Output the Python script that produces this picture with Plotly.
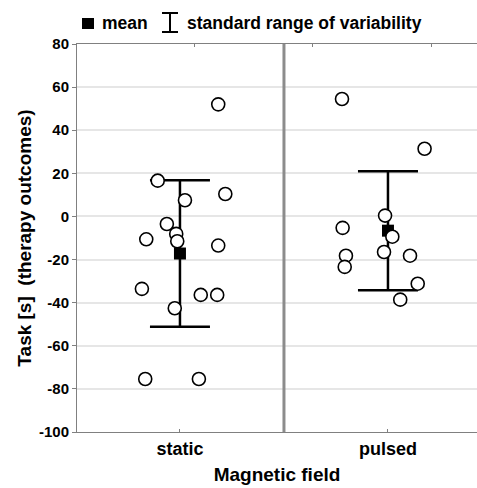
import plotly.graph_objects as go

# ---- data ----
categories = ["static", "pulsed"]
cat_pos = [0, 1]

static_values = [52, 16.6, 7.5, 10.4, -3.5, -10.6, -8.1, -11.5, -13.5,
                 -33.6, -36.4, -36.4, -42.6, -75.4, -75.4]
static_jitter = [0.184, -0.107, 0.024, 0.218, -0.063, -0.162, -0.018, -0.013, 0.184,
                 -0.183, 0.100, 0.179, -0.025, -0.167, 0.091]

pulsed_values = [54.5, 31.4, 0.4, -5.3, -9.4, -16.5, -18.2, -18.2, -23.4, -31.2, -38.6]
pulsed_jitter = [-0.221, 0.176, -0.014, -0.218, 0.021, -0.019, -0.202, 0.106, -0.208,
                 0.143, 0.059]

means = [-17.2, -6.6]
sds = [34.0, 27.6]

y_ticks = list(range(-100, 81, 20))
y_tick_labels = [str(v) for v in y_ticks]

FONT = "Liberation Sans, Arial, sans-serif"

fig = go.Figure()

# mean with standard-deviation whiskers
fig.add_trace(go.Scatter(
    x=cat_pos, y=means, mode="markers",
    marker=dict(symbol="square", size=12, color="black"),
    error_y=dict(type="data", array=sds, visible=True, color="black",
                 thickness=2.5, width=30),
    showlegend=False, hoverinfo="skip"))

# individual observations
for pos, vals, jit in [(cat_pos[0], static_values, static_jitter),
                       (cat_pos[1], pulsed_values, pulsed_jitter)]:
    fig.add_trace(go.Scatter(
        x=[pos + j for j in jit], y=vals, mode="markers",
        marker=dict(symbol="circle", size=13, color="white",
                    line=dict(color="black", width=1.6)),
        showlegend=False))

# invisible trace to carry the top axis ticks
fig.add_trace(go.Scatter(x=[0, 1], y=[0, 0], xaxis="x2", mode="markers",
                         marker=dict(opacity=0), showlegend=False,
                         hoverinfo="skip"))

x_range = [-0.495, 1.428]

fig.update_layout(
    width=477, height=488,
    margin=dict(l=77, r=0, t=44, b=56, autoexpand=False),
    paper_bgcolor="white", plot_bgcolor="white",
    font=dict(family=FONT, color="black"),
    xaxis=dict(range=x_range, tickvals=cat_pos, ticktext=categories,
               ticks="inside", ticklen=3, tickcolor="#808080",
               showline=True, linecolor="#808080", linewidth=1, mirror=True,
               showgrid=False, zeroline=False, automargin=False,
               tickfont=dict(size=18, family=FONT, weight="bold"),
               title=dict(text="Magnetic field", standoff=10,
                          font=dict(size=19, family=FONT, weight="bold"))),
    xaxis2=dict(range=x_range, overlaying="x", side="top",
                tickvals=[0.072, 0.639, 1.21], showticklabels=False,
                ticks="inside", ticklen=3, tickcolor="#808080",
                showgrid=False, zeroline=False, showline=False,
                automargin=False),
    yaxis=dict(range=[-100, 80], tickvals=y_ticks, ticktext=y_tick_labels,
               ticks="outside", ticklen=4, tickcolor="#808080",
               showline=True, linecolor="#808080", linewidth=1,
               showgrid=True, gridcolor="#e6e6e6", gridwidth=1.5,
               zeroline=False, automargin=False,
               tickfont=dict(size=15, family=FONT, weight="bold"),
               title=dict(text="Task [s]  (therapy outcomes)", standoff=2,
                          font=dict(size=19, family=FONT, weight="bold"))),
)

# divider between the two groups (midway between the categories)
mid = (cat_pos[0] + cat_pos[1]) / 2
fig.add_shape(type="line", xref="x", yref="paper", x0=mid, x1=mid, y0=0, y1=1,
              line=dict(color="#8c8c8c", width=3))

# legend drawn above the plot
fig.add_shape(type="rect", xref="paper", yref="paper",
              x0=0.0125, x1=0.0425, y0=1.0387, y1=1.067,
              fillcolor="black", line=dict(width=0))
fig.add_annotation(xref="paper", yref="paper", x=0.0575, y=1.0541,
                   xanchor="left", yanchor="middle", showarrow=False,
                   text="mean", font=dict(size=17.5, family=FONT, weight="bold"))
for y0, y1, x0, x1 in [(1.0309, 1.0799, 0.2325, 0.2325),
                       (1.0309, 1.0309, 0.2125, 0.2525),
                       (1.0799, 1.0799, 0.2125, 0.2525)]:
    fig.add_shape(type="line", xref="paper", yref="paper",
                  x0=x0, x1=x1, y0=y0, y1=y1,
                  line=dict(color="black", width=2))
fig.add_annotation(xref="paper", yref="paper", x=0.27, y=1.0541,
                   xanchor="left", yanchor="middle", showarrow=False,
                   text="standard range of variability",
                   font=dict(size=17.5, family=FONT, weight="bold"))

fig.write_html("out.html",
               config={"displayModeBar": False},
               post_script="document.body.style.margin='0';"
                           "document.body.style.overflow='hidden';")
